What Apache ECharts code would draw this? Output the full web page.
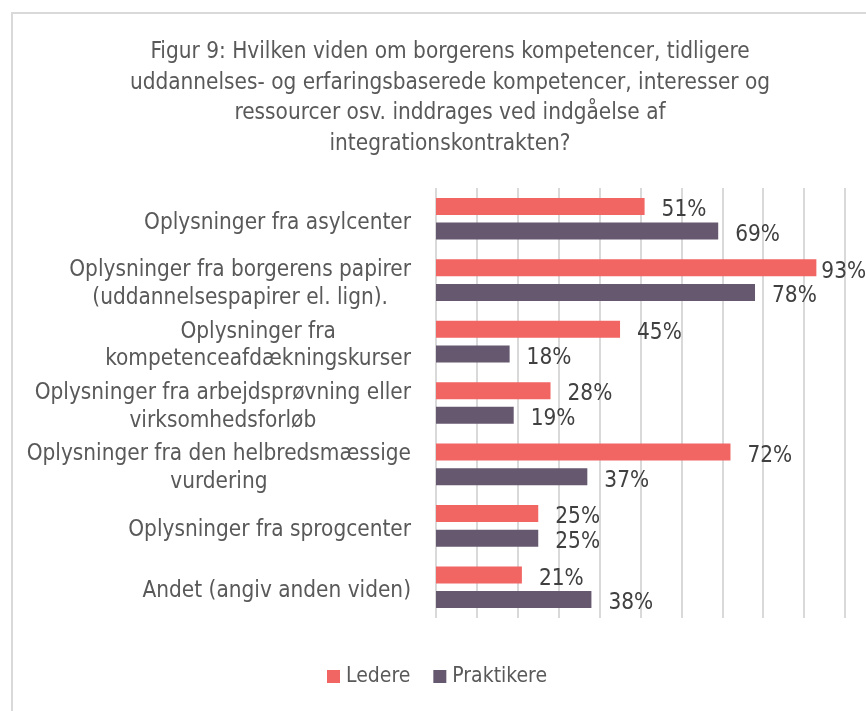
<!DOCTYPE html>
<html>
<head>
<meta charset="utf-8">
<script src="https://cdn.jsdelivr.net/npm/echarts@6/dist/echarts.min.js"></script>
<style>
  html, body { margin: 0; padding: 0; background: #fff; }
  #chart { width: 866px; height: 711px; }
</style>
</head>
<body>
<div id="chart"></div>
<script>
const titleText = "Figur 9: Hvilken viden om borgerens kompetencer, tidligere\nuddannelses- og erfaringsbaserede kompetencer, interesser og\nressourcer osv. inddrages ved indgåelse af\nintegrationskontrakten?";
const categories = [
  "Oplysninger fra asylcenter",
  "Oplysninger fra borgerens papirer\n(uddannelsespapirer el. lign).",
  "Oplysninger fra\nkompetenceafdækningskurser",
  "Oplysninger fra arbejdsprøvning eller\nvirksomhedsforløb",
  "Oplysninger fra den helbredsmæssige\nvurdering",
  "Oplysninger fra sprogcenter",
  "Andet (angiv anden viden)"
];
const seriesNames = ["Ledere", "Praktikere"];
const ledere = [51, 93, 45, 28, 72, 25, 21];
const praktikere = [69, 78, 18, 19, 37, 25, 38];

const FONT = "'DejaVu Sans Condensed', Lato, sans-serif";
const FS = 22.4;
const chart = echarts.init(document.getElementById('chart'), null, { renderer: 'canvas' });

function labelFor(v) { return v + '%'; }
function seriesData(arr) {
  return arr.map(v => ({
    value: v,
    label: { distance: v >= 90 ? 5 : 17 }
  }));
}

const option = {
  backgroundColor: '#ffffff',
  animation: false,
  graphic: [{
    type: 'rect',
    shape: { x: 12, y: 13, width: 900, height: 760 },
    style: { fill: 'none', stroke: '#d9d9d9', lineWidth: 2 },
    silent: true
  }],
  title: {
    text: titleText,
    left: 445,
    top: 32,
    textAlign: 'center',
    textStyle: {
      fontFamily: FONT, fontSize: FS, fontWeight: 'normal',
      color: '#595959', lineHeight: 30.5
    }
  },
  legend: {
    data: seriesNames,
    bottom: 19,
    left: 322,
    itemWidth: 13, itemHeight: 13, itemGap: 23,
    icon: 'rect',
    textStyle: { fontFamily: FONT, fontSize: 21, color: '#595959', padding: [0, 0, 0, 1] }
  },
  grid: { left: 436, right: 21, top: 188, bottom: 93, containLabel: false },
  xAxis: {
    type: 'value', min: 0, max: 100, interval: 10,
    axisLabel: { show: false },
    axisLine: { show: false },
    axisTick: { show: false },
    splitLine: { show: true, lineStyle: { color: '#d9d9d9', width: 2 } }
  },
  yAxis: {
    type: 'category',
    data: categories,
    inverse: true,
    axisLine: { show: false },
    axisTick: { show: false },
    axisLabel: {
      margin: 25,
      align: 'right',
      padding: [8, 0, 0, 0],
      formatter: v => v.split('\n').map(l => '{c|' + l + '}').join('\n'),
      rich: {
        c: { align: 'center', fontFamily: FONT, fontSize: FS, color: '#595959', lineHeight: 27.5 }
      }
    }
  },
  series: [
    {
      name: seriesNames[0], type: 'bar', data: seriesData(ledere),
      barWidth: 17, barGap: '45%',
      itemStyle: { color: '#f16563' },
      label: { show: true, position: 'right', offset: [0, 4], formatter: p => labelFor(p.value),
               fontFamily: FONT, fontSize: FS, color: '#404040' }
    },
    {
      name: seriesNames[1], type: 'bar', data: seriesData(praktikere),
      barWidth: 17, barGap: '45%',
      itemStyle: { color: '#65586f' },
      label: { show: true, position: 'right', offset: [0, 4], formatter: p => labelFor(p.value),
               fontFamily: FONT, fontSize: FS, color: '#404040' }
    }
  ]
};
chart.setOption(option);
</script>
</body>
</html>
